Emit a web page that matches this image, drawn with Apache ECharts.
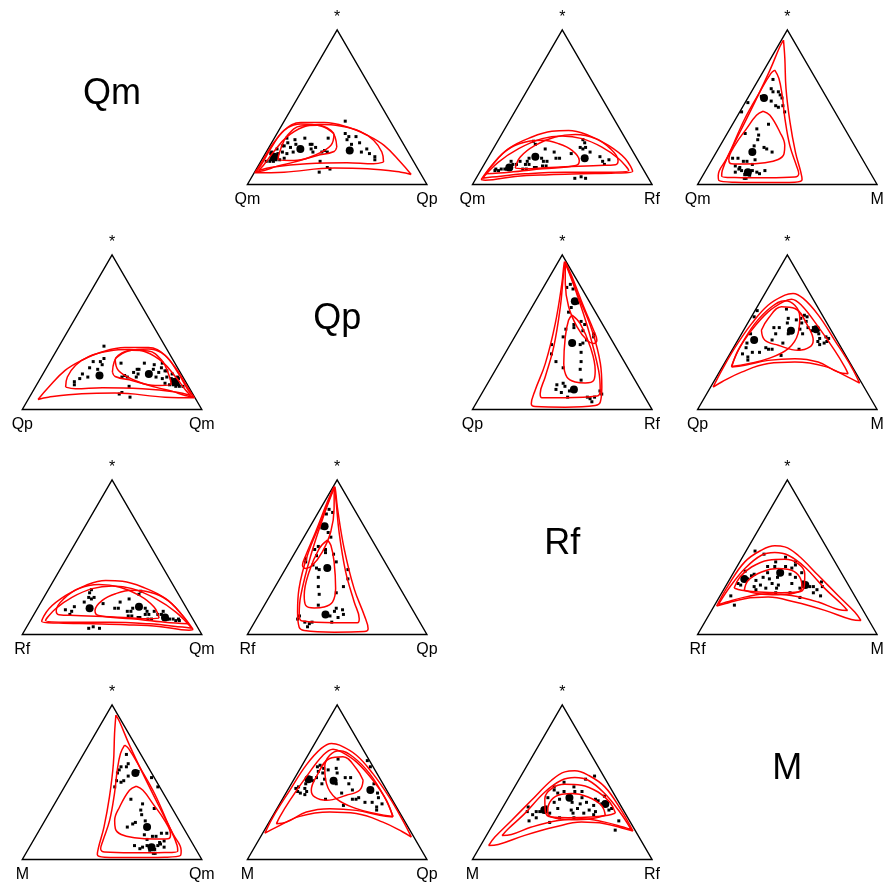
<!DOCTYPE html>
<html><head><meta charset="utf-8">
<script src="https://cdn.jsdelivr.net/npm/echarts@6/dist/echarts.min.js"></script>
<style>html,body{margin:0;padding:0;background:#fff}#c{width:886px;height:884px}</style>
</head><body><div id="c"></div><script>
// Parts of the composition; "*" = remaining parts combined
const parts = ['Qm', 'Qp', 'Rf', 'M'];
const restLabel = '*';
// Each pair (left part, right part): entries are [right share %, * share %]; left share = remainder
const qmQpPoints = [[34,41],[38,33],[41,31],[41,29],[45,31],[49,27],[45,26],[53,21],[55,23],[58,20],[62,18],[63,16],[30,30],[32,22],[31,21],[34,21],[33,15],[39,11],[41,10],[36,8],[22,26],[23,26],[24,23],[26,21],[26,24],[17,30],[12,29],[14,26],[15,21],[12,24],[7,30],[9,27],[8,25],[7,25],[9,21],[12,20],[5,23],[7,20],[6,19],[6,18],[5,17],[5,16],[5,15],[7,15],[3,15],[3,20],[12,17],[10,16],[8,16],[3,21]];
const qmQpMeans = [[18,23],[46,22],[6,18]];
const qmQpLoops = [
  [[88,6.5],[78,14.5],[63.5,25.3],[51,31.8],[37.2,37.2],[22.8,40.1],[9.7,40.1],[2.9,35.1],[1.4,23.2],[1.3,12.3],[0.3,7.6],[16.4,8.0],[43,10.6],[61.8,10.2],[81.5,8.0]],
  [[68.6,14.5],[64.4,21.0],[56,28.6],[45.6,34.4],[32.7,37.9],[21.1,38.8],[12.6,37.2],[6.5,30.7],[4.0,21.0],[2.7,12.3],[1.6,9.1],[8.9,11.3],[26.4,13.4],[48.4,14.1],[63.6,13.4]],
  [[37.7,24.2],[33.5,30.7],[29,35.1],[19.8,38.3],[10.8,37.9],[6.4,31.8],[7.0,23.2],[9.0,16.2],[18.2,15.6],[29.6,18.8],[37.6,21.4]],
  [[31.8,32.9],[22,37.9],[10.1,39.2],[4.0,36.6],[1.2,27.5],[0.8,16.7],[0.5,8.4],[4.8,9.1],[10.7,11.9],[18.7,14.5],[27.8,18.8],[33.8,25.3]]
];
const qmRfPoints = [[20,28],[22,26],[29,23],[35,21],[45,20],[47,29],[49,27],[48,24],[51,24],[50,23],[55,21],[62,18],[68,16],[67,13],[65,15],[55,4],[58,5],[61,4],[38,17],[40,17],[30,17],[32,15],[34,15],[33,12],[35,12],[30,11],[29,11],[23,17],[23,15],[23,13],[25,13],[23,10],[25,10],[19,15],[18,13],[14,15],[16,13],[14,10],[13,10],[16,10],[8,10],[10,9],[11,10],[8,9]];
const qmRfMeans = [[54,17],[26,18],[15,11]];
const qmRfLoops = [
  [[3.2,3.2],[4.6,12.3],[8.5,23.2],[17.7,30.7],[27,34.4],[36.1,34.9],[48.8,31.8],[63.1,25.3],[76.8,16.7],[85,8.4],[75.9,7.4],[57.5,6.9],[39.3,6.3],[21.2,5.2],[5.7,2.8]],
  [[18.5,10.6],[17.7,17.8],[22.2,25.3],[30.7,30.7],[41.2,32.3],[53.6,29.7],[65.2,23.2],[73.3,15.6],[73.2,12.8],[64.1,12.3],[49.6,11.7],[35.1,10.8],[24.3,10.2]],
  [[3.9,6.9],[6.7,19.9],[12.8,26.4],[24.7,28.6],[34.8,26.4],[44.4,22.1],[51.7,15.6],[51.4,12.3],[33.9,10.2],[16.4,8.0]],
  [[3.5,4.1],[7.2,14.5],[14.1,23.2],[23.9,29.7],[34.1,31.4],[46.2,29.7],[60,24.2],[73.1,16.7],[82.5,9.1],[70,8.0],[47.7,8.0],[25.9,6.9],[8.4,4.8]]
];
const qmMPoints = [[8,68],[10,62],[12,60],[15,60],[17,58],[19,56],[22,51],[25,47],[18,51],[20,50],[14,54],[7,57],[1.5,53],[1,47],[20,39],[15,36],[18,32],[19,29],[10,33],[19,25],[25,24],[27,23],[31,21],[11,17],[14,17],[18,15],[20,15],[24,16],[24,13],[15,12],[18,10],[17,8],[20,9],[23,6.5],[25,4],[26,6],[26,9],[29,8],[31,7],[33,9],[24,4],[18,11]];
const qmMMeans = [[9,56],[20,21],[24,8]];
const qmMLoops = [
  [[1.1,93.5],[7.8,81.6],[18.2,62.1],[31.2,40.5],[44,21],[53.5,8.0],[56.6,3.2],[53.4,1.5],[38.7,1.3],[20,1.5],[10.6,2.6],[8.6,5.8],[7.8,16.7],[6.6,34],[5.2,53.5],[3.3,74],[1.2,89.2]],
  [[6,74],[11,68.6],[18.2,57.8],[27.3,42.7],[38.7,25.3],[48.9,12.3],[52.9,6.9],[51.8,4.8],[37.1,4.3],[18.5,4.5],[10.7,5.4],[9.2,9.1],[7.3,23.2],[5,42.7],[4.7,60],[4.9,71.9]],
  [[12.8,47.4],[17.9,44.8],[28.8,34],[35.9,25.3],[38.2,19.9],[36.8,16.2],[30.5,14.1],[19.7,13.2],[12.2,13.4],[9.3,16.2],[8.1,25.3],[9.2,36.2],[10.4,44.8]]
];
const qpRfPoints = [[14,81],[17,78],[13,79],[21,71],[24,69],[22,66],[22,63],[29,55],[30,53],[32,57],[26,52],[35,55],[36,51],[43,49],[44,47],[41,45],[40,43],[39,42],[27,47],[23,42],[26,36],[42,37],[45,31],[47,26],[51,19],[37,27],[31,31],[39,16],[40,13],[42,17],[44,15],[44,11],[48,12],[49,8],[60,8],[62,7],[64,8],[64,5],[65,12],[67,10]];
const qpRfMeans = [[22,70],[34,43],[50,13]];
const qpRfLoops = [
  [[3.4,95.7],[6.6,92.4],[22.6,73],[40.9,51.3],[56.4,29.7],[64.8,14.5],[68.8,4.8],[67.1,2.6],[50.9,1.5],[33.9,1.9],[30.9,3.7],[28.7,12.3],[25.7,29.7],[18.3,55.6],[9,81.6],[4.6,92.4]],
  [[4.4,94.6],[18.7,77.3],[39,51.3],[57.6,25.3],[65,12.3],[65,8.7],[47.9,7.6],[34.9,7.6],[32.6,10.2],[30,21],[25,40.5],[15.7,66.5],[6.7,88.1]],
  [[24.9,61.1],[32.2,55.6],[45.4,40.5],[55.7,25.3],[58.1,18.8],[54.2,17.1],[48.4,17.8],[42.1,21],[36,29.7],[28.2,47],[24.6,57.8]],
  [[3.8,95.7],[12.4,86],[28.7,66.5],[41.8,51.3],[46.9,44.8],[46.2,42.7],[41.4,44.8],[31.5,53.5],[20.3,66.5],[10.9,81.6]]
];
const qpMPoints = [[1.2,64],[1.5,60],[6,43],[5,49],[7,40],[7,36],[11,34],[12,37],[16,37],[12,32],[18,40],[20,39],[22,39],[19,45],[16,53],[19,53],[19,49],[26,43],[29,35],[17,65],[21,59],[22,56],[26,49],[26,58],[28,59],[30,56],[31,52],[34,49],[37,39],[29,61],[31,60],[32,57],[35,53],[38,51],[38,53],[43,49],[45,46],[45,44],[48,47],[50,44],[49,43],[47,42],[50,46]];
const qpMMeans = [[9,45],[26.5,51],[40,52]];
const qpMLoops = [
  [[1.4,14.5],[0.8,25.3],[0.8,40.5],[2.3,55.6],[5.5,67.5],[11.6,74],[15.6,75.1],[22.9,71.9],[36.7,61.1],[54,44.8],[72,27.5],[81.7,17.1],[73.3,21],[56.9,27.9],[38.8,30.7],[24.5,29.7],[12.4,24.2],[4.5,17.8]],
  [[5.2,27.5],[3.4,38.3],[4.4,51.3],[7.7,63.2],[12.8,69.7],[16.6,71.4],[24.1,67.5],[40.5,53.5],[57.2,38.3],[68.3,27.5],[72.2,23.2],[66.2,24.2],[51.8,30.7],[37.7,32.9],[23.4,31.8],[12,28.6]],
  [[4.9,27.9],[3.4,40.5],[4.1,55.6],[8,66.5],[13.4,70.4],[20.4,67.5],[26.9,60],[31.4,49.1],[30.8,39.4],[22.8,32.9],[13.4,29.7]],
  [[9.9,51.3],[9.9,58.9],[13.5,66.5],[21.5,65.4],[34.9,53.5],[42,44.8],[42.3,40.5],[36.8,38.3],[24.1,41.6],[15.1,44.8]]
];
const rfMPoints = [[5,54],[11,52],[20,47],[24,50],[27,44],[31,47],[32,45],[21,44],[17,44],[19,40],[12,39],[11,38],[6,41],[8,37],[6,33],[8,32],[10,36],[15,35],[18,37],[22,36],[26,37],[31,43],[32,39],[36,37],[38,40],[42,34],[42,30],[36,33],[29,32],[29,30],[25,33],[23,30],[19,32],[18,29],[16,31],[6,25],[11,19],[30,27],[38,27],[45,24],[47,31],[51,27],[52,29],[54,31],[52,34],[56,25],[49,31]];
const rfMMeans = [[26,40],[44,32],[8,36]];
const rfMLoops = [
  [[1.4,18.4],[1.2,31.8],[2.8,47],[8.3,54.6],[14.3,57.4],[20.2,56.7],[30.3,51.3],[48,38.3],[65.6,25.3],[80.3,14.5],[86.4,9.1],[80.8,9.7],[63.1,15.6],[43.7,21],[27.2,24.2],[14.7,23.2],[5.2,19.9]],
  [[1.9,19.3],[2.6,30.7],[5,42.7],[9.9,51.3],[16.5,53],[24.8,51.3],[37.8,43.7],[56.1,29.7],[70.1,19.9],[75.7,15.6],[70.2,16.2],[56.7,21],[39.6,25.3],[26.1,26.4],[14.2,24.2],[5.6,21]],
  [[5.3,30.1],[5,37.2],[8.2,43.7],[15.3,48.1],[24.2,48.7],[33,45.9],[40,39.4],[44,30.7],[42.3,27.5],[33.2,27.1],[20.1,27.5],[10.2,28.6]],
  [[11.7,28.6],[10.7,35.1],[15.4,40.5],[23.6,42.7],[31.5,41.6],[38.3,37.2],[42.8,30.7],[42.3,27.5],[32,25.8],[20.6,26.4]]
];

const pairData = {
  '0,1': [qmQpPoints, qmQpMeans, qmQpLoops],
  '0,2': [qmRfPoints, qmRfMeans, qmRfLoops],
  '0,3': [qmMPoints, qmMMeans, qmMLoops],
  '1,2': [qpRfPoints, qpRfMeans, qpRfLoops],
  '1,3': [qpMPoints, qpMMeans, qpMLoops],
  '2,3': [rfMPoints, rfMMeans, rfMLoops]
};

const H = Math.sqrt(3) / 2;
function toXY(p, mirror) {
  const top = p[1];
  const right = mirror ? 100 - p[0] - p[1] : p[0];
  return [right / 100 + top / 200, top / 100 * H];
}

const X0 = 22.3, DX = 225.1, Y0 = 30, DY = 225, W = 179.5, GH = 154.5;
const FONT = '"Liberation Sans", Arial, Helvetica, sans-serif';
const grids = [], xAxes = [], yAxes = [], series = [], graphics = [];
let gi = 0;
function vtxLabel(text, pos, dist) {
  return { show: true, formatter: text, position: pos, distance: dist, color: '#000', opacity: 1, fontSize: 16, fontFamily: FONT };
}
for (let r = 0; r < 4; r++) {
  for (let c = 0; c < 4; c++) {
    if (r === c) {
      graphics.push({
        type: 'text', x: X0 + c * DX + W / 2, y: Y0 + r * DY + 64,
        style: { text: parts[r], font: '36px ' + FONT, fill: '#000', textAlign: 'center', textVerticalAlign: 'middle' }
      });
      continue;
    }
    const lo = Math.min(r, c), hi = Math.max(r, c);
    const mirror = r > c;
    const [pts, means, loops] = pairData[lo + ',' + hi];
    grids.push({ left: X0 + c * DX, top: Y0 + r * DY, width: W, height: GH, containLabel: false });
    xAxes.push({ gridIndex: gi, type: 'value', min: 0, max: 1, show: false });
    yAxes.push({ gridIndex: gi, type: 'value', min: 0, max: H, show: false });
    series.push({
      type: 'line', xAxisIndex: gi, yAxisIndex: gi, symbol: 'none', silent: true, clip: false,
      data: [[0, 0], [1, 0], [0.5, H], [0, 0], [1, 0]],
      lineStyle: { color: '#000', width: 1.4, join: 'miter', opacity: 1 }, z: 2
    });
    series.push({
      type: 'scatter', xAxisIndex: gi, yAxisIndex: gi, symbol: 'rect', symbolSize: 3, silent: true, clip: false,
      data: pts.map(p => toXY(p, mirror)), itemStyle: { color: '#000', opacity: 1 }, z: 3
    });
    series.push({
      type: 'scatter', xAxisIndex: gi, yAxisIndex: gi, symbol: 'circle', symbolSize: 8, silent: true, clip: false,
      data: means.map(p => toXY(p, mirror)), itemStyle: { color: '#000', opacity: 1 }, z: 3
    });
    loops.forEach(loop => {
      const d = loop.map(p => toXY(p, mirror));
      d.push(d[0]);
      series.push({
        type: 'line', xAxisIndex: gi, yAxisIndex: gi, symbol: 'none', silent: true, clip: false, smooth: 0.4,
        data: d, lineStyle: { color: '#ff0000', width: 1.5, opacity: 1 }, z: 4
      });
    });
    series.push({
      type: 'scatter', xAxisIndex: gi, yAxisIndex: gi, symbolSize: 1, silent: true, clip: false,
      itemStyle: { color: 'rgba(0,0,0,0)', opacity: 1 },
      data: [
        { value: [0, 0], label: vtxLabel(parts[r], 'bottom', 7) },
        { value: [1, 0], label: vtxLabel(parts[c], 'bottom', 7) },
        { value: [0.5, H], label: vtxLabel(restLabel, 'top', 4) }
      ],
      label: { color: '#000', fontSize: 16, fontFamily: FONT }, z: 5
    });
    gi++;
  }
}

const chart = echarts.init(document.getElementById('c'), null, { renderer: 'canvas' });
chart.setOption({
  animation: false,
  backgroundColor: '#fff',
  grid: grids, xAxis: xAxes, yAxis: yAxes, series: series, graphic: graphics
});
</script></body></html>
